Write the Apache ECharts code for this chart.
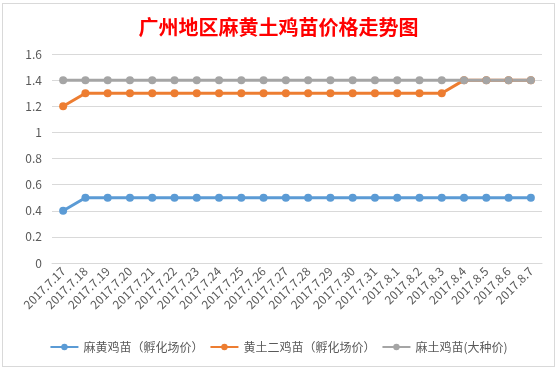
<!DOCTYPE html>
<html><head><meta charset="utf-8">
<script src="https://cdn.jsdelivr.net/npm/echarts@6/dist/echarts.min.js"></script>
<style>
html,body{margin:0;padding:0;background:#fff;width:558px;height:369px;overflow:hidden;}
#c{position:absolute;left:2px;top:3px;width:551px;height:362px;border:1px solid #d9d9d9;background:#fff;}
</style></head>
<body><div id="c"></div>
<script>
var titleText = '广州地区麻黄土鸡苗价格走势图';
var categories = ['2017.7.17','2017.7.18','2017.7.19','2017.7.20','2017.7.21','2017.7.22','2017.7.23','2017.7.24','2017.7.25','2017.7.26','2017.7.27','2017.7.28','2017.7.29','2017.7.30','2017.7.31','2017.8.1','2017.8.2','2017.8.3','2017.8.4','2017.8.5','2017.8.6','2017.8.7'];
var seriesNames = ['麻黄鸡苗（孵化场价）','黄土二鸡苗（孵化场价）','麻土鸡苗(大种价)'];
var mahuang = [0.4,0.5,0.5,0.5,0.5,0.5,0.5,0.5,0.5,0.5,0.5,0.5,0.5,0.5,0.5,0.5,0.5,0.5,0.5,0.5,0.5,0.5];
var huangtu = [1.2,1.3,1.3,1.3,1.3,1.3,1.3,1.3,1.3,1.3,1.3,1.3,1.3,1.3,1.3,1.3,1.3,1.3,1.4,1.4,1.4,1.4];
var matu = [1.4,1.4,1.4,1.4,1.4,1.4,1.4,1.4,1.4,1.4,1.4,1.4,1.4,1.4,1.4,1.4,1.4,1.4,1.4,1.4,1.4,1.4];
var colors = ['#5B9BD5','#ED7D31','#A5A5A5'];
var font = '"Microsoft YaHei","Noto Sans CJK SC",sans-serif';

var chart = echarts.init(document.getElementById('c'));
function mk(name, data, color){
  return {name:name,type:'line',data:data,symbol:'circle',symbolSize:8,
    itemStyle:{color:color},lineStyle:{width:3,color:color},animation:false};
}
chart.setOption({
  animation:false,
  title:{text:titleText,left:'center',top:8,textStyle:{color:'#FF0000',fontSize:20,fontWeight:'bold',fontFamily:'"Noto Sans CJK SC",sans-serif'}},
  grid:{left:49,top:50,width:490,height:209,containLabel:false},
  legend:{bottom:8,left:'center',itemWidth:28,itemHeight:8,itemGap:6,
    textStyle:{color:'#595959',fontSize:12,fontFamily:font},
    data:seriesNames},
  xAxis:{type:'category',data:categories,boundaryGap:true,
    axisLine:{lineStyle:{color:'#d9d9d9'}},axisTick:{show:false},
    axisLabel:{rotate:45,color:'#595959',fontSize:12,interval:0,margin:6,fontFamily:font}},
  yAxis:{type:'value',min:0,max:1.6,interval:0.2,
    axisLine:{show:false},axisTick:{show:false},
    splitLine:{lineStyle:{color:'#d9d9d9'}},
    axisLabel:{color:'#595959',fontSize:12,margin:10,fontFamily:font,
      formatter:function(v){return String(Math.round(v*10)/10);}}},
  series:[mk(seriesNames[0],mahuang,colors[0]),mk(seriesNames[1],huangtu,colors[1]),mk(seriesNames[2],matu,colors[2])]
});
</script></body></html>
